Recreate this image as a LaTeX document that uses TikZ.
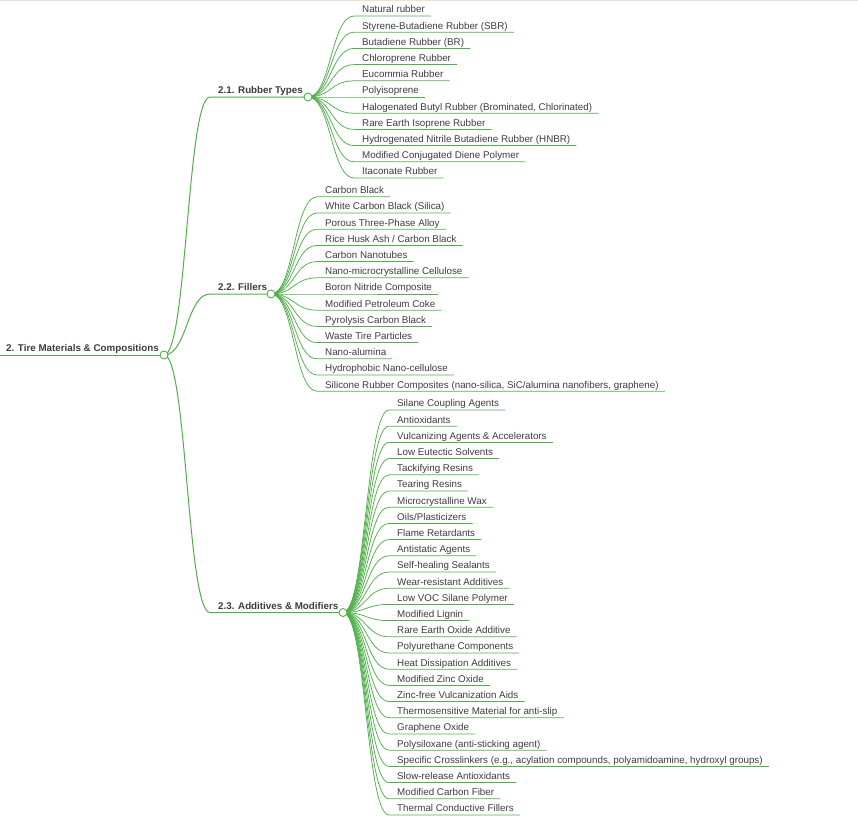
\documentclass[tikz,border=0pt]{standalone}
\usepackage{fontspec}
\setmainfont{Liberation Sans}
\usetikzlibrary{calc}

\definecolor{mmgreen}{RGB}{80,175,75}
\definecolor{txtgray}{RGB}{60,60,60}
\definecolor{edgepink}{RGB}{246,224,214}

\tikzset{
  leaf/.style={anchor=base west, inner sep=0pt, yshift=-0.8pt, font=\fontsize{9.8}{12}\selectfont, text=txtgray},
  head/.style={leaf, font=\fontsize{9.8}{12}\selectfont\bfseries},
  branch/.style={draw=mmgreen, line width=0.75pt},
  trunk/.style={draw=mmgreen, line width=1pt},
  dot/.style={circle, draw=mmgreen, fill=white, line width=0.9pt, minimum size=8pt, inner sep=0pt},
}

\begin{document}
\begin{tikzpicture}[x=1pt,y=-1pt]
\useasboundingbox (0,0) rectangle (858,820);
\draw[edgepink, line width=1pt] (0,0.5) -- (858,0.5);

% root and main branches
\coordinate (rootend) at (0,355);
\coordinate (rootc) at (164,355);
\node[head] (root) at (6,351) {2. Tire Materials \& Compositions};
\coordinate (rt) at (308,97);
\node[head] (rubber) at (218,93) {2.1. Rubber Types};
\coordinate (fl) at (271,294);
\node[head] (fillers) at (218,290) {2.2. Fillers};
\coordinate (ad) at (343,612.5);
\node[head] (additives) at (218,608.5) {2.3. Additives \& Modifiers};

% rubber types
\node[leaf] (r1) at (362,12.0) {Natural rubber};
\node[leaf] (r2) at (362,28.2) {Styrene-Butadiene Rubber (SBR)};
\node[leaf] (r3) at (362,44.4) {Butadiene Rubber (BR)};
\node[leaf] (r4) at (362,60.6) {Chloroprene Rubber};
\node[leaf] (r5) at (362,76.8) {Eucommia Rubber};
\node[leaf] (r6) at (362,93.0) {Polyisoprene};
\node[leaf] (r7) at (362,109.2) {Halogenated Butyl Rubber (Brominated, Chlorinated)};
\node[leaf] (r8) at (362,125.4) {Rare Earth Isoprene Rubber};
\node[leaf] (r9) at (362,141.6) {Hydrogenated Nitrile Butadiene Rubber (HNBR)};
\node[leaf] (r10) at (362,157.8) {Modified Conjugated Diene Polymer};
\node[leaf] (r11) at (362,174.0) {Itaconate Rubber};

% fillers
\node[leaf] (f1) at (325,192.8) {Carbon Black};
\node[leaf] (f2) at (325,209.0) {White Carbon Black (Silica)};
\node[leaf] (f3) at (325,225.2) {Porous Three-Phase Alloy};
\node[leaf] (f4) at (325,241.4) {Rice Husk Ash / Carbon Black};
\node[leaf] (f5) at (325,257.6) {Carbon Nanotubes};
\node[leaf] (f6) at (325,273.8) {Nano-microcrystalline Cellulose};
\node[leaf] (f7) at (325,290.0) {Boron Nitride Composite};
\node[leaf] (f8) at (325,306.2) {Modified Petroleum Coke};
\node[leaf] (f9) at (325,322.4) {Pyrolysis Carbon Black};
\node[leaf] (f10) at (325,338.6) {Waste Tire Particles};
\node[leaf] (f11) at (325,354.8) {Nano-alumina};
\node[leaf] (f12) at (325,371.0) {Hydrophobic Nano-cellulose};
\node[leaf] (f13) at (325,387.2) {Silicone Rubber Composites (nano-silica, SiC/alumina nanofibers, graphene)};

% additives and modifiers
\node[leaf] (a1) at (397,406.0) {Silane Coupling Agents};
\node[leaf] (a2) at (397,422.2) {Antioxidants};
\node[leaf] (a3) at (397,438.4) {Vulcanizing Agents \& Accelerators};
\node[leaf] (a4) at (397,454.6) {Low Eutectic Solvents};
\node[leaf] (a5) at (397,470.8) {Tackifying Resins};
\node[leaf] (a6) at (397,487.0) {Tearing Resins};
\node[leaf] (a7) at (397,503.2) {Microcrystalline Wax};
\node[leaf] (a8) at (397,519.4) {Oils/Plasticizers};
\node[leaf] (a9) at (397,535.6) {Flame Retardants};
\node[leaf] (a10) at (397,551.8) {Antistatic Agents};
\node[leaf] (a11) at (397,568.0) {Self-healing Sealants};
\node[leaf] (a12) at (397,584.2) {Wear-resistant Additives};
\node[leaf] (a13) at (397,600.4) {Low VOC Silane Polymer};
\node[leaf] (a14) at (397,616.6) {Modified Lignin};
\node[leaf] (a15) at (397,632.8) {Rare Earth Oxide Additive};
\node[leaf] (a16) at (397,649.0) {Polyurethane Components};
\node[leaf] (a17) at (397,665.2) {Heat Dissipation Additives};
\node[leaf] (a18) at (397,681.4) {Modified Zinc Oxide};
\node[leaf] (a19) at (397,697.6) {Zinc-free Vulcanization Aids};
\node[leaf] (a20) at (397,713.8) {Thermosensitive Material for anti-slip};
\node[leaf] (a21) at (397,730.0) {Graphene Oxide};
\node[leaf] (a22) at (397,746.2) {Polysiloxane (anti-sticking agent)};
\node[leaf] (a23) at (397,762.4) {Specific Crosslinkers (e.g., acylation compounds, polyamidoamine, hydroxyl groups)};
\node[leaf] (a24) at (397,778.6) {Slow-release Antioxidants};
\node[leaf] (a25) at (397,794.8) {Modified Carbon Fiber};
\node[leaf] (a26) at (397,811.0) {Thermal Conductive Fillers};

% connectors
\draw[trunk] (rootend) -- (rootc);
\foreach \h/\c in {rubber/rt, fillers/fl, additives/ad}
  \draw[trunk] let \p1=(rootc), \p2=([shift={(-8pt,-3.2pt)}]\h.base west) in
    (\p1) .. controls ({(\x1+\x2)/2},\y1) and ({(\x1+\x2)/2},\y2) .. (\p2) -- (\c);
\foreach \i in {1,...,11}
  \draw[branch] let \p1=(rt), \p2=([shift={(-8pt,-3.2pt)}]r\i.base west) in
    (\p1) .. controls ({(\x1+\x2)/2},\y1) and ({(\x1+\x2)/2},\y2) .. (\p2) -- ([shift={(6pt,-3.2pt)}]r\i.base east);
\foreach \i in {1,...,13}
  \draw[branch] let \p1=(fl), \p2=([shift={(-8pt,-3.2pt)}]f\i.base west) in
    (\p1) .. controls ({(\x1+\x2)/2},\y1) and ({(\x1+\x2)/2},\y2) .. (\p2) -- ([shift={(6pt,-3.2pt)}]f\i.base east);
\foreach \i in {1,...,26}
  \draw[branch] let \p1=(ad), \p2=([shift={(-8pt,-3.2pt)}]a\i.base west) in
    (\p1) .. controls ({(\x1+\x2)/2},\y1) and ({(\x1+\x2)/2},\y2) .. (\p2) -- ([shift={(6pt,-3.2pt)}]a\i.base east);

% fold circles
\node[dot] (rootdot) at (rootc) {};
\node[dot] (rtdot) at (rt) {};
\node[dot] (fldot) at (fl) {};
\node[dot] (addot) at (ad) {};
\end{tikzpicture}
\end{document}
